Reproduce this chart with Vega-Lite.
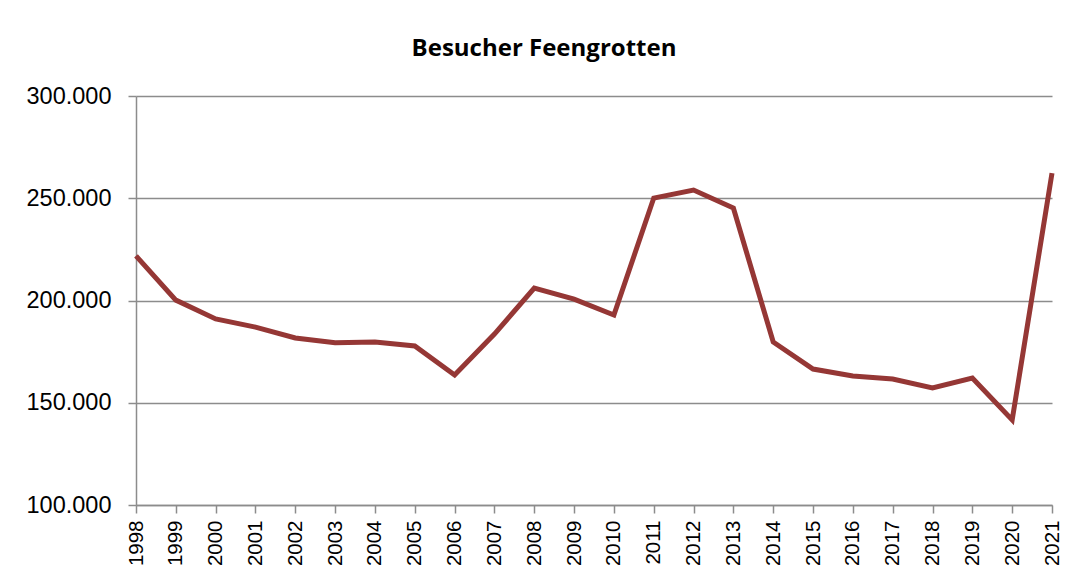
{
  "$schema": "https://vega.github.io/schema/vega-lite/v6.json",
  "autosize": "none",
  "width": 916,
  "height": 409,
  "padding": {"left": 136, "top": 96, "right": 20, "bottom": 75},
  "background": "white",
  "config": {
    "locale": {"number": {"decimal": ",", "thousands": ".", "grouping": [3], "currency": ["", " €"]}},
    "view": {"stroke": null},
    "font": "Liberation Sans"
  },
  "title": {
    "text": "Besucher Feengrotten",
    "font": "Open Sans",
    "fontSize": 24,
    "fontWeight": "bold",
    "color": "#000000",
    "anchor": "middle",
    "baseline": "alphabetic",
    "offset": 4,
    "dx": -50
  },
  "data": {
    "values": [
      {"Jahr": "1998", "Besucher": 221800},
      {"Jahr": "1999", "Besucher": 200200},
      {"Jahr": "2000", "Besucher": 191000},
      {"Jahr": "2001", "Besucher": 187000},
      {"Jahr": "2002", "Besucher": 181700},
      {"Jahr": "2003", "Besucher": 179300},
      {"Jahr": "2004", "Besucher": 179700},
      {"Jahr": "2005", "Besucher": 177800},
      {"Jahr": "2006", "Besucher": 163600},
      {"Jahr": "2007", "Besucher": 183600},
      {"Jahr": "2008", "Besucher": 206100},
      {"Jahr": "2009", "Besucher": 200700},
      {"Jahr": "2010", "Besucher": 192900},
      {"Jahr": "2011", "Besucher": 250100},
      {"Jahr": "2012", "Besucher": 254000},
      {"Jahr": "2013", "Besucher": 245200},
      {"Jahr": "2014", "Besucher": 179700},
      {"Jahr": "2015", "Besucher": 166500},
      {"Jahr": "2016", "Besucher": 163100},
      {"Jahr": "2017", "Besucher": 161600},
      {"Jahr": "2018", "Besucher": 157200},
      {"Jahr": "2019", "Besucher": 162100},
      {"Jahr": "2020", "Besucher": 141600},
      {"Jahr": "2021", "Besucher": 262300}
    ]
  },
  "mark": {"type": "line", "color": "#953735", "strokeWidth": 5, "strokeJoin": "miter", "strokeCap": "butt"},
  "encoding": {
    "x": {
      "field": "Jahr",
      "type": "ordinal",
      "scale": {"type": "point", "padding": 0},
      "axis": {
        "title": null,
        "labelAngle": -90,
        "labelAlign": "right",
        "labelBaseline": "middle",
        "labelFontSize": 20.5,
        "labelColor": "#000000",
        "labelPadding": 7,
        "tickSize": 8,
        "tickColor": "#8c8c8c",
        "tickWidth": 1.5,
        "domainColor": "#8c8c8c",
        "domainWidth": 1.5,
        "grid": false
      }
    },
    "y": {
      "field": "Besucher",
      "type": "quantitative",
      "scale": {"domain": [100000, 300000], "nice": false, "zero": false},
      "axis": {
        "title": null,
        "values": [100000, 150000, 200000, 250000, 300000],
        "format": ",d",
        "labelFontSize": 23.5,
        "labelColor": "#000000",
        "labelPadding": 17,
        "tickSize": 8,
        "tickColor": "#8c8c8c",
        "tickWidth": 1.5,
        "domainColor": "#8c8c8c",
        "domainWidth": 1.5,
        "grid": true,
        "gridColor": "#8c8c8c",
        "gridWidth": 1.5
      }
    }
  }
}
